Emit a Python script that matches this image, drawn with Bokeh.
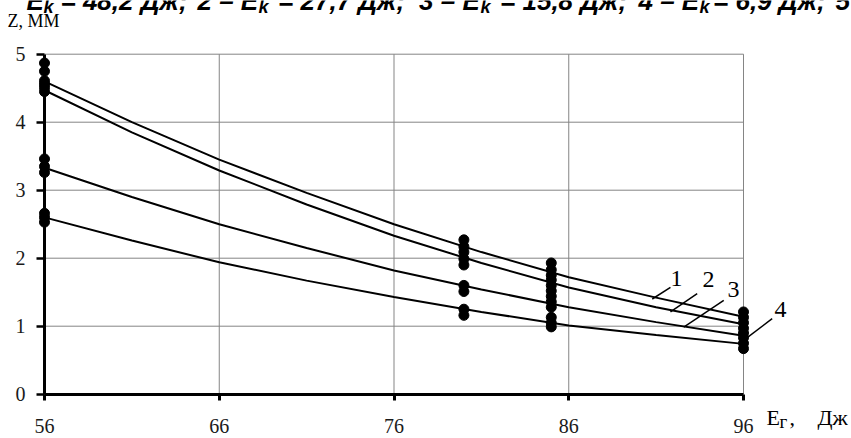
from bokeh.plotting import figure
from bokeh.models import Range1d, FixedTicker, Label, Arrow
from bokeh.embed import file_html
from bokeh.resources import INLINE

# ---------------- data ----------------
x_ticks = [56, 66, 76, 86, 96]
y_ticks = [0, 1, 2, 3, 4, 5]

# measured points (impact energy E_г, Дж -> depth z, мм)
z_at_56 = [4.87, 4.75, 4.61, 4.56, 4.51, 4.45, 3.46, 3.35, 3.26, 2.66, 2.60, 2.53]
z_at_80 = [2.27, 2.17, 2.09, 1.99, 1.90, 1.60, 1.51, 1.25, 1.16]
z_at_85 = [1.93, 1.83, 1.75, 1.68, 1.60, 1.52, 1.44, 1.36, 1.28, 1.13, 1.05, 0.99]
z_at_96 = [1.21, 1.13, 1.05, 0.97, 0.90, 0.83, 0.75, 0.67]

# fitted curves 1..4
curve_x = [56, 61, 66, 71, 76, 81, 86, 91, 96]
curve_1 = [4.60, 4.00, 3.45, 2.96, 2.50, 2.09, 1.72, 1.42, 1.14]
curve_2 = [4.47, 3.85, 3.29, 2.79, 2.33, 1.93, 1.57, 1.28, 1.03]
curve_3 = [3.33, 2.90, 2.50, 2.15, 1.82, 1.54, 1.28, 1.06, 0.86]
curve_4 = [2.60, 2.26, 1.94, 1.67, 1.43, 1.21, 1.01, 0.87, 0.74]
curve_names = ["1", "2", "3", "4"]

SERIF = "Liberation Serif"
SANS = "Liberation Sans"

W, H = 851, 438
PX_X = 17.475   # pixels per x unit
PX_Y = 68.0     # pixels per y unit
X0_PX, Y0_PX = 44.0, 393.7   # pixel position of (56, 0)

p = figure(width=W, height=H,
           x_range=Range1d(56 - X0_PX / PX_X, 56 + (W - X0_PX) / PX_X),
           y_range=Range1d(-(H - Y0_PX) / PX_Y, Y0_PX / PX_Y),
           output_backend="svg", toolbar_location=None,
           min_border_left=0, min_border_right=0,
           min_border_top=0, min_border_bottom=0)
p.outline_line_color = None
p.background_fill_color = "white"
p.border_fill_color = "white"
p.xgrid.visible = False
p.ygrid.visible = False

# grid lines bounded to the data area
gx = x_ticks[1:]
p.segment(x0=gx, y0=[y_ticks[0]] * len(gx), x1=gx, y1=[y_ticks[-1]] * len(gx),
          line_color="#858585", line_width=1)
gy = y_ticks[1:]
p.segment(x0=[x_ticks[0]] * len(gy), y0=gy, x1=[x_ticks[-1]] * len(gy), y1=gy,
          line_color="#858585", line_width=1)

# x axis
xa = p.xaxis[0]
xa.ticker = FixedTicker(ticks=x_ticks)
xa.bounds = (x_ticks[0], x_ticks[-1])
xa.fixed_location = y_ticks[0]
xa.axis_line_width = 3
xa.axis_line_color = "black"
xa.major_tick_out = 6
xa.major_tick_in = 0
xa.major_tick_line_width = 3
xa.minor_tick_line_color = None
xa.major_label_text_font = SERIF
xa.major_label_text_font_size = "20px"
xa.major_label_text_color = "#1a1a1a"
xa.major_label_standoff = 19

# y axis
ya = p.yaxis[0]
ya.ticker = FixedTicker(ticks=y_ticks)
ya.bounds = (y_ticks[0], y_ticks[-1])
ya.fixed_location = x_ticks[0]
ya.axis_line_width = 3
ya.axis_line_color = "black"
ya.major_tick_out = 8
ya.major_tick_in = 0
ya.major_tick_line_width = 2.5
ya.minor_tick_line_color = None
ya.major_label_text_font = SERIF
ya.major_label_text_font_size = "20px"
ya.major_label_text_color = "#1a1a1a"
ya.major_label_standoff = 11

# curves
for c in (curve_1, curve_2, curve_3, curve_4):
    p.line(curve_x, c, line_color="black", line_width=2)

# points
for e, zs in zip([56, 80, 85, 96], [z_at_56, z_at_80, z_at_85, z_at_96]):
    p.scatter([e] * len(zs), zs, size=10, color="black")

# curve labels with leader lines
lab_pos = [(92.17, 1.708), (93.99, 1.693), (95.43, 1.546), (98.12, 1.252)]
leaders = [((90.78, 1.40), (91.82, 1.57)),
           ((91.82, 1.21), (93.35, 1.48)),
           ((92.58, 0.985), (94.87, 1.38)),
           ((96.10, 0.81), (97.64, 1.11))]
for name, (lx, ly), ((x0, y0), (x1, y1)) in zip(curve_names, lab_pos, leaders):
    p.add_layout(Arrow(end=None, x_start=x0, y_start=y0, x_end=x1, y_end=y1,
                       line_color="black", line_width=1.5))
    p.add_layout(Label(x=lx, y=ly, text=name, text_font=SERIF,
                       text_font_size="24px", text_align="center",
                       text_baseline="alphabetic", text_color="black"))

# axis titles and caption
def lab(x, y, t, size, font=SERIF, style="normal", align="left"):
    p.add_layout(Label(x=x, y=y, text=t, text_font=font, text_font_size=size,
                       text_font_style=style, text_align=align,
                       text_baseline="alphabetic", text_color="black"))

lab(53.88, 5.486, "Z, ММ", "18px")
lab(97.32, -0.347, "E", "22px")
lab(98.06, -0.406, "г", "19px")
lab(98.63, -0.347, ",", "22px")
lab(100.24, -0.347, "Дж", "22px")

# cut-off caption line at the very top
cap_main = [(54.97, "E"), (56.916, "= 48,2 Дж;"), (64.755, "2 – E"),
            (69.368, "= 27,7 Дж;"), (77.436, "3 – E"), (82.07, "= 15,8 Дж;"),
            (89.99, "4 – E"), (94.26, "= 6,9 Дж;"), (101.26, "5 – E")]
cap_sub = [55.943, 68.246, 80.95, 93.48]
for cx, t in cap_main:
    lab(cx, 5.777, t, "26px", font=SANS, style="bold italic")
for cx in cap_sub:
    lab(cx, 5.692, "k", "18px", font=SANS, style="bold italic")

open("out.html", "w").write(file_html(p, INLINE))
